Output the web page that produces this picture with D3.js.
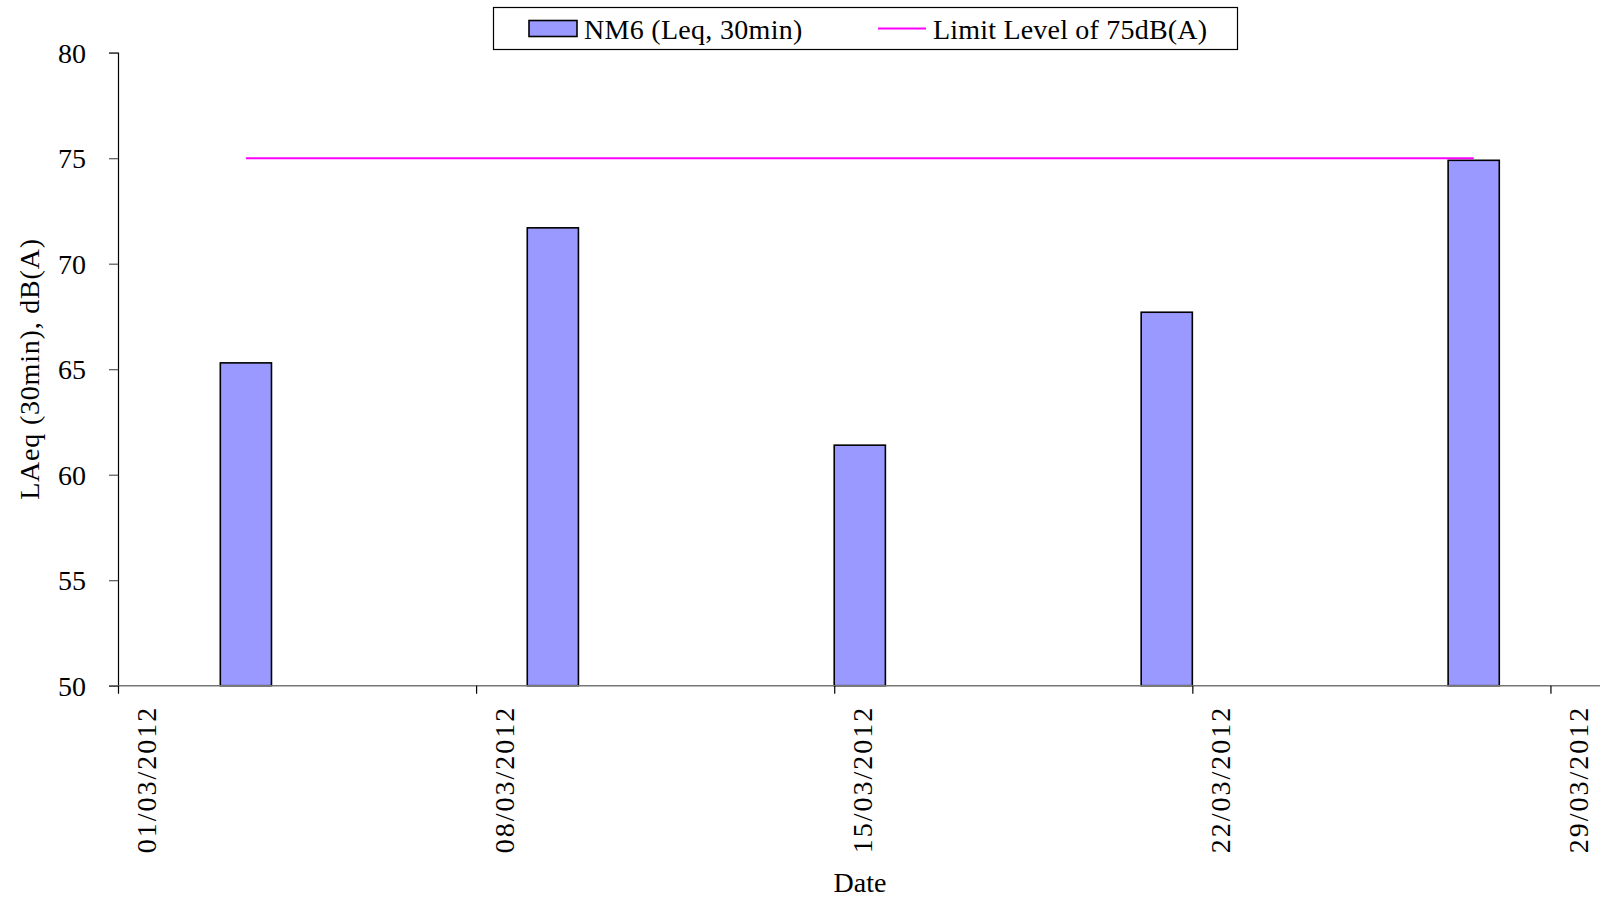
<!DOCTYPE html>
<html>
<head>
<meta charset="utf-8">
<script src="https://cdn.jsdelivr.net/npm/d3@7"></script>
<style>
  body { margin: 0; background: #fff; }
  svg { display: block; font-family: "Liberation Serif", "DejaVu Serif", serif; }
</style>
</head>
<body>
<svg id="chart" width="1600" height="901"></svg>
<script>
// data
var dates = ['2012-03-03', '2012-03-09', '2012-03-15', '2012-03-21', '2012-03-27'];
var levels = [65.3, 71.7, 61.4, 67.7, 74.9];
var limitLevel = 75;
var yTicks = [50, 55, 60, 65, 70, 75, 80];
var xTickDates = ['2012-03-01', '2012-03-08', '2012-03-15', '2012-03-22', '2012-03-29'];
var seriesName = 'NM6 (Leq, 30min)';
var limitName = 'Limit Level of 75dB(A)';

var parse = d3.utcParse('%Y-%m-%d');
var fmt = d3.utcFormat('%d/%m/%Y');
var DAY = 864e5;

var svg = d3.select('#chart');

var x = d3.scaleUtc()
  .domain([parse('2012-03-01'), parse('2012-03-30')])
  .range([118, 1601.6]);

var y = d3.scaleLinear()
  .domain([50, 80])
  .range([685.7, 52.7]);

// bars
var bars = dates.map(function (d, i) { return { date: parse(d), value: levels[i] }; });

svg.append('g').selectAll('rect')
  .data(bars)
  .enter().append('rect')
  .attr('x', function (d) { return x(d.date); })
  .attr('y', function (d) { return y(d.value); })
  .attr('width', function (d) { return x(new Date(+d.date + DAY)) - x(d.date); })
  .attr('height', function (d) { return y(50) - y(d.value); })
  .style('fill', '#9999ff')
  .style('stroke', '#000')
  .style('stroke-width', 1.6);

// limit line, from middle of first bar to middle of last
var first = parse(dates[0]), last = parse(dates[dates.length - 1]);
svg.append('line')
  .attr('x1', x(new Date(+first + DAY / 2)))
  .attr('x2', x(new Date(+last + DAY / 2)))
  .attr('y1', y(limitLevel))
  .attr('y2', y(limitLevel))
  .style('stroke', '#ff00ff')
  .style('stroke-width', 2);

// y axis
var yAxis = svg.append('g')
  .attr('transform', 'translate(118,0)')
  .call(d3.axisLeft(y).tickValues(yTicks).tickSize(9).tickPadding(0).tickFormat(d3.format('d')));
yAxis.select('.domain').attr('stroke', '#000').attr('stroke-width', 1.2);
yAxis.selectAll('.tick line').attr('stroke', '#555').attr('stroke-width', 1.2);
yAxis.selectAll('.tick text')
  .attr('x', -32)
  .attr('dy', '0.34em')
  .style('font-size', '28px')
  .style('fill', '#000')
  .style('font-family', '"Liberation Serif", serif');

// x axis
var xAxis = svg.append('g')
  .attr('transform', 'translate(0,' + y(50) + ')')
  .call(d3.axisBottom(x).tickValues(xTickDates.map(parse)).tickSize(8).tickFormat(fmt));
xAxis.select('.domain').attr('stroke', '#777').attr('stroke-width', 1.4).attr('d', 'M118,0H1600');
xAxis.selectAll('.tick line').attr('stroke', '#000').attr('stroke-width', 1.2);
xAxis.selectAll('.tick text')
  .attr('transform', 'translate(37,20) rotate(-90)')
  .attr('x', 0)
  .attr('y', 0)
  .attr('dy', 0)
  .attr('text-anchor', 'end')
  .style('font-size', '28px')
  .style('letter-spacing', '2px')
  .style('fill', '#000')
  .style('font-family', '"Liberation Serif", serif');

// axis titles
svg.append('text')
  .attr('transform', 'translate(39,369) rotate(-90)')
  .attr('text-anchor', 'middle')
  .style('font-size', '28px')
  .style('letter-spacing', '0.8px')
  .text('LAeq (30min), dB(A)');

svg.append('text')
  .attr('x', 860)
  .attr('y', 892)
  .attr('text-anchor', 'middle')
  .style('font-size', '28px')
  .text('Date');

// legend
var legend = svg.append('g');
legend.append('rect')
  .attr('x', 493.5).attr('y', 7.5)
  .attr('width', 744).attr('height', 42)
  .style('fill', '#fff')
  .style('stroke', '#000')
  .style('stroke-width', 1.2);
legend.append('rect')
  .attr('x', 529).attr('y', 20.5)
  .attr('width', 48).attr('height', 16)
  .style('fill', '#9999ff')
  .style('stroke', '#000')
  .style('stroke-width', 1.6);
legend.append('text')
  .attr('x', 584).attr('y', 38.5)
  .style('font-size', '28px')
  .style('letter-spacing', '0.3px')
  .text(seriesName);
legend.append('line')
  .attr('x1', 878).attr('x2', 926)
  .attr('y1', 28.6).attr('y2', 28.6)
  .style('stroke', '#ff00ff')
  .style('stroke-width', 2);
legend.append('text')
  .attr('x', 933).attr('y', 38.5)
  .style('font-size', '28px')
  .style('letter-spacing', '0.2px')
  .text(limitName);
</script>
</body>
</html>
